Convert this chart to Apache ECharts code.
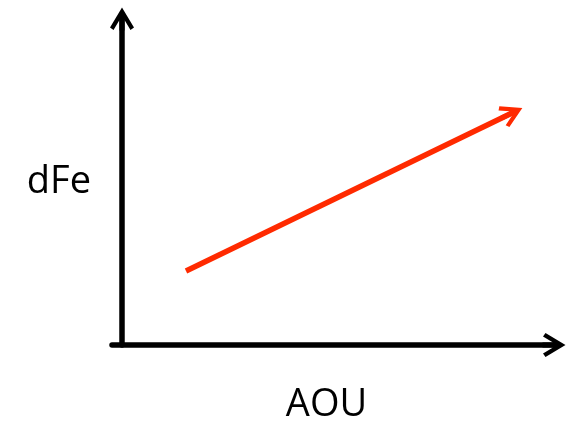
<!DOCTYPE html>
<html>
<head>
<meta charset="utf-8">
<script src="https://cdn.jsdelivr.net/npm/echarts@6/dist/echarts.min.js"></script>
<style>
html,body{margin:0;padding:0;background:#fff;}
#chart{width:570px;height:422px;}
</style>
</head>
<body>
<div id="chart"></div>
<script>
// Schematic: dFe rises with AOU
const axisNameX = 'AOU';
const axisNameY = 'dFe';
const xRange = [-10, 432];
const yRange = [0, 326];
const trendX = [64, 390];
const trendY = [74, 232];

const ARROW = 'path://M12,0 L24,20 L20.5,22.5 L14.5,12.5 L14.5,23 L9.5,23 L9.5,12.5 L3.5,22.5 L0,20 Z';

const chart = echarts.init(document.getElementById('chart'));
const axisCommon = {
  type: 'value',
  axisTick: {show: false},
  axisLabel: {show: false},
  splitLine: {show: false},
  axisLine: {
    show: true,
    onZero: true,
    symbol: ['none', ARROW],
    symbolSize: [24, 23],
    lineStyle: {color: '#000', width: 5.5}
  }
};
chart.setOption({
  animation: false,
  grid: {left: 112, right: 16, top: 19, bottom: 77, containLabel: false, outerBoundsMode: 'none'},
  xAxis: Object.assign({}, axisCommon, {
    min: xRange[0], max: xRange[1],
    name: axisNameX,
    nameLocation: 'middle',
    nameGap: 41,
    nameTextStyle: {fontFamily: 'Open Sans', fontSize: 38, color: '#000', padding: [0, 13, 0, 0]}
  }),
  yAxis: Object.assign({}, axisCommon, {
    min: yRange[0], max: yRange[1],
    name: axisNameY,
    nameLocation: 'middle',
    nameRotate: 0,
    nameGap: 21,
    nameTextStyle: {fontFamily: 'Open Sans', fontSize: 38, color: '#000', padding: [16, 0, 0, 0]}
  }),
  series: [{
    type: 'lines',
    coordinateSystem: 'cartesian2d',
    symbol: ['none', ARROW],
    symbolSize: [24, 23],
    lineStyle: {color: '#FF2A00', width: 5.5, opacity: 1, curveness: 0},
    data: [{coords: trendX.map((x, i) => [x, trendY[i]])}]
  }]
});
</script>
</body>
</html>
